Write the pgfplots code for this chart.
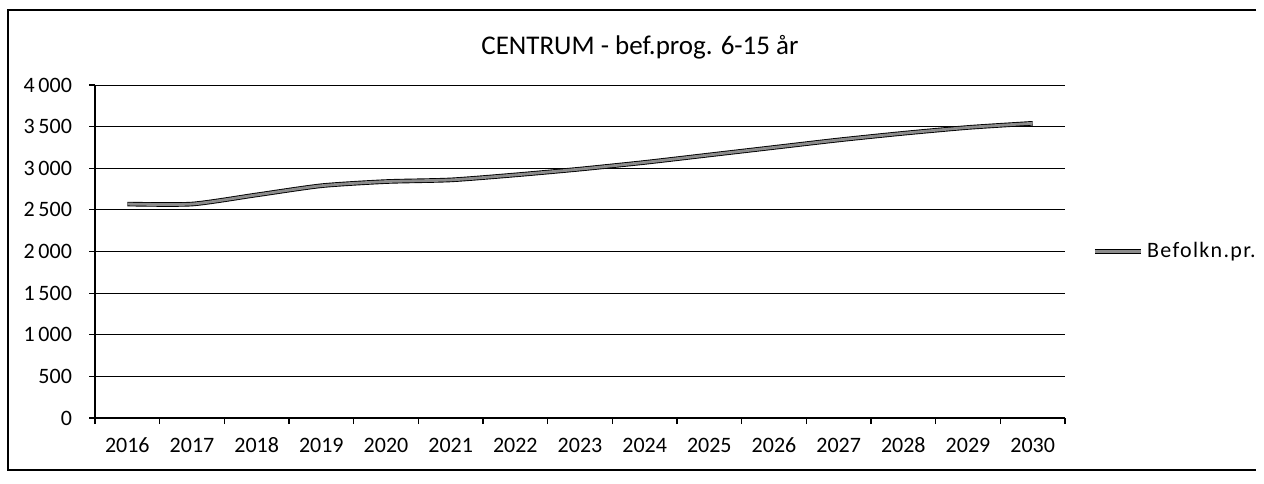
\documentclass[border=0pt]{standalone}
\usepackage{fontspec}
\setmainfont[Numbers=Lining]{Carlito}
\usepackage{pgfplots}
\pgfplotsset{compat=1.18}

\begin{document}
\begin{tikzpicture}[x=0.5pt,y=0.5pt]
  % page size = 1264 x 483 px
  \path (0,0) rectangle (1264,483);
  % outer frame (right side is cut off in the scan)
  \draw[line width=0.8pt] (1256,473) -- (8,473) -- (8,13) -- (1256,13);

  \node[font=\fontsize{13.5}{16}\selectfont] at (640,436) {CENTRUM - bef.prog. 6-15 år};

  \begin{axis}[
    at={(47.5pt,32.5pt)}, anchor=south west,
    scale only axis, width=485pt, height=166.5pt,
    xmin=2015.5, xmax=2030.5,
    ymin=0, ymax=4000,
    xtick=data,
    minor xtick={2015.5,2016.5,...,2030.5},
    ytick={0,500,...,4000},
    axis lines*=left,
    axis line style={line width=0.6pt},
    tick align=outside,
    major tick length=3pt, minor tick length=3pt,
    major x tick style={draw=none},
    tick style={black, line width=0.6pt},
    ymajorgrids,
    major grid style={black, line width=0.5pt},
    /pgf/number format/assume math mode=true,
    ticklabel style={font=\fontsize{11}{13}\selectfont},
    xticklabel style={/pgf/number format/1000 sep={}, yshift=-3pt,
      text height=7.5pt, text depth=0pt},
    yticklabel style={/pgf/number format/1000 sep={\,}, xshift=-5pt},
    legend style={at={(1.028,0.5)}, anchor=west, draw=none, fill=none,
      font=\fontsize{11}{13}\selectfont\addfontfeature{LetterSpace=6},
      inner sep=0pt},
    legend image code/.code={
      \draw[#1] (0pt,0pt) -- (23pt,0pt);
    },
  ]
    \addplot[draw=black, line width=0.45pt, double=black!45,
      double distance=1.4pt, smooth, tension=0.4] coordinates {
      (2016,2570) (2017,2570) (2018,2680) (2019,2790) (2020,2840)
      (2021,2860) (2022,2920) (2023,2990) (2024,3070) (2025,3160)
      (2026,3250) (2027,3340) (2028,3420) (2029,3490) (2030,3540)
    };
    \addlegendentry{Befolkn.pr.}
  \end{axis}
\end{tikzpicture}
\end{document}
